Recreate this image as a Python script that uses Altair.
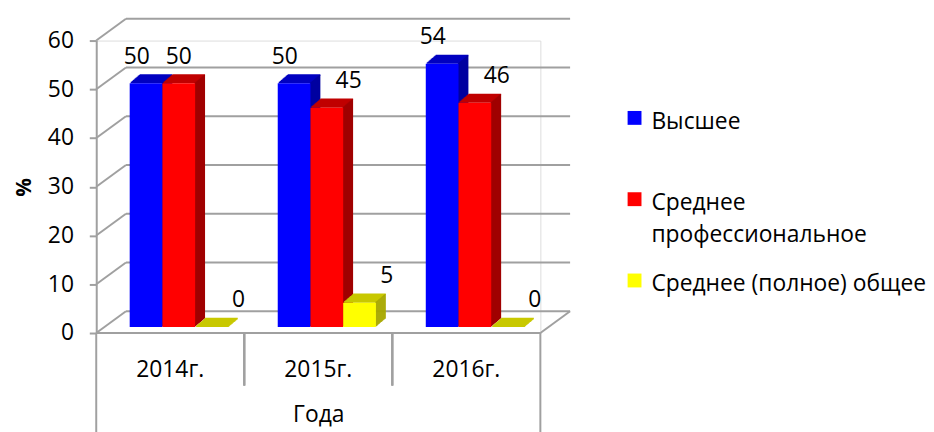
import altair as alt
import pandas as pd

years = ["2014г.", "2015г.", "2016г."]
series = ["Высшее", "Среднее профессиональное", "Среднее (полное) общее"]
higher = [50, 50, 54]
secondary_prof = [50, 45, 46]
secondary_general = [0, 5, 0]
y_ticks = [0, 10, 20, 30, 40, 50, 60]

front_colors = ["#0000FF", "#FF0000", "#FFFF00"]
top_colors = ["#0000C0", "#C00000", "#C8C800"]
side_colors = ["#0000A0", "#A00000", "#A8A800"]

rows = []
for i, y in enumerate(years):
    for s, vals in zip(series, [higher, secondary_prof, secondary_general]):
        rows.append({"year": y, "series": s, "value": vals[i], "blue": higher[i]})
df = pd.DataFrame(rows)
ticks_df = pd.DataFrame({"value": y_ticks})

W, H = 448, 295
STEP = W / len(years)
DX, DY = 30, 22          # floor / wall depth in px
BX, BY = 8.6, 6          # bar depth position
SX, SY, N = 1.0, 0.85, 10  # bar extrusion steps
BW = 33
FONT = "Open Sans"
FS = 23
GRID = "#A0A0A0"

yaxis = alt.Axis(values=y_ticks, title="%", titleFont=FONT, titleFontSize=21,
                 titleFontWeight="bold", titleColor="black", titlePadding=13,
                 labelFont=FONT, labelFontSize=FS, labelColor="black", labelPadding=16,
                 domainColor=GRID, domainWidth=2, tickColor=GRID, tickWidth=2, tickSize=7,
                 grid=False)
xaxis = alt.Axis(orient="bottom", title="Года", titleFont=FONT, titleFontSize=FS,
                 titleFontWeight="normal", titleColor="black", titlePadding=22,
                 labelFont=FONT, labelFontSize=FS, labelColor="black", labelPadding=26,
                 labelAngle=0, ticks=False, domain=False, grid=False)
yscale = alt.Scale(domain=[0, 60])
xscale = alt.Scale(domain=years, range=[0, W], paddingInner=0, paddingOuter=0)

xs = alt.X("year:N", sort=years, scale=xscale, axis=xaxis)
ys = alt.Y("value:Q", scale=yscale, axis=yaxis)


def xo(shift):
    return alt.XOffset("series:N", sort=series,
                       scale=alt.Scale(domain=series, paddingInner=0, paddingOuter=0.762,
                                       range=[shift, STEP + shift]))


def col(rng, legend=None):
    return alt.Color("series:N", sort=series, scale=alt.Scale(domain=series, range=rng), legend=legend)


base = alt.Chart(df)
tb = alt.Chart(ticks_df)

# back wall gridlines
back = tb.mark_rule(color=GRID, strokeWidth=2, yOffset=-DY).encode(
    y=ys, x=alt.value(DX), x2=alt.value(W + DX))
side_wall = tb.mark_rule(color=GRID, strokeWidth=2, y2Offset=-DY).encode(
    y=ys, y2="value:Q", x=alt.value(0), x2=alt.value(DX))
floor_front = tb.transform_filter("datum.value == 0").mark_rule(color=GRID, strokeWidth=2).encode(
    y=ys, x=alt.value(0), x2=alt.value(W))
floor_right = tb.transform_filter("datum.value == 0").mark_rule(color=GRID, strokeWidth=2, y2Offset=-DY).encode(
    y=ys, y2="value:Q", x=alt.value(W), x2=alt.value(W + DX))

# category dividers
dividers = base.transform_filter(alt.datum.year != years[0]).mark_rule(color=GRID, strokeWidth=2).encode(
    x=alt.X("year:N", sort=years, bandPosition=0, scale=xscale, axis=xaxis),
    y=alt.value(H), y2=alt.value(H + 53))
edge_l = tb.transform_filter("datum.value == 0").mark_rule(color=GRID, strokeWidth=2).encode(
    x=alt.value(0), y=alt.value(H), y2=alt.value(H + 110))
edge_r = tb.transform_filter("datum.value == 0").mark_rule(color=GRID, strokeWidth=2).encode(
    x=alt.value(W), y=alt.value(H), y2=alt.value(H + 110))

layers = [back, side_wall, floor_front, floor_right, dividers, edge_l, edge_r]

legend = alt.Legend(title=None, orient="none", legendX=529, legendY=57,
                    symbolType="M-0.5,0H0.5V1H-0.5Z", symbolSize=784,
                    symbolStrokeWidth=0, gridAlign="all",
                    labelFont=FONT, labelFontSize=FS, labelColor="black",
                    rowPadding=13, labelLimit=400, labelBaseline="top", labelOffset=3,
                    labelExpr="datum.label == 'Среднее профессиональное' ? ['Среднее', 'профессиональное'] : datum.label")

for si, s in enumerate(series):
    bs = base.transform_filter(alt.datum.series == s)
    # top face
    for k in range(1, N + 1):
        layers.append(bs.mark_tick(orient="horizontal", size=BW, thickness=1.6, opacity=1,
                                   yOffset=-BY - k * SY).encode(
            x=xs, xOffset=xo(BX + k * SX), y=ys, color=col(top_colors)))
    # side face
    for k in range(1, N + 1):
        off = -BY - k * SY
        layers.append(bs.mark_bar(width=1.6, yOffset=off, y2Offset=off).encode(
            x=xs, xOffset=xo(BX + BW / 2 + k * SX - 0.8), y=ys, y2=alt.datum(0),
            color=col(side_colors)))
    # front face
    layers.append(bs.mark_bar(yOffset=-BY, y2Offset=-BY).encode(
        x=xs, xOffset=xo(BX), y=ys, y2=alt.datum(0),
        color=col(front_colors, legend if si == 0 else None)))

# data labels
lab_kw = dict(font=FONT, fontSize=FS, color="black", baseline="middle", yOffset=-BY - 27)
layers.append(base.transform_filter(alt.datum.series == series[0]).mark_text(**lab_kw).encode(
    x=xs, xOffset=xo(BX), y=ys, text="value:Q"))
layers.append(base.transform_filter((alt.datum.series == series[1]) & (alt.datum.value == alt.datum.blue))
              .mark_text(**lab_kw).encode(x=xs, xOffset=xo(BX), y=ys, text="value:Q"))
layers.append(base.transform_filter((alt.datum.series == series[1]) & (alt.datum.value != alt.datum.blue))
              .mark_text(**lab_kw).encode(x=xs, xOffset=xo(BX + 22), y=ys, text="value:Q"))
layers.append(base.transform_filter(alt.datum.series == series[2]).mark_text(**lab_kw).encode(
    x=xs, xOffset=xo(BX + 18), y=ys, text="value:Q"))

chart = alt.layer(*layers).resolve_scale(color="independent", xOffset="independent").properties(
    width=W, height=H,
    autosize=alt.AutoSizeParams(type="none"),
    padding={"left": 89, "top": 31, "right": 389, "bottom": 100},
).configure_view(stroke=None).configure(style={"guide-label": {"lineHeight": 32}})

chart.save("out.html", embed_options={"renderer": "svg", "actions": False})
